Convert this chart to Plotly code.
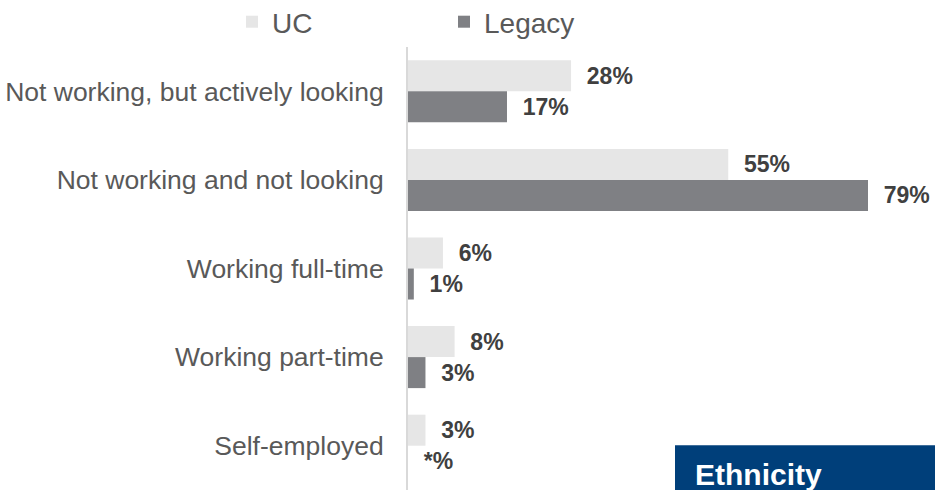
import plotly.graph_objects as go

# Employment status by benefit group (percent of respondents)
categories = [
    "Not working, but actively looking",
    "Not working and not looking",
    "Working full-time",
    "Working part-time",
    "Self-employed",
]
uc_values = [28, 55, 6, 8, 3]
legacy_values = [17, 79, 1, 3, 0]
series_names = ["UC", "Legacy"]


def pct_label(v):
    # values under half a percent are shown as an asterisk
    return f"{v}%" if v >= 0.5 else "*%"


W, H = 935, 490
LEFT, TOP = 408, 45
PX_PER_PCT = (868 - 408) / 79
x_max = (W - LEFT) / PX_PER_PCT

FONT = "Liberation Sans, Arial, sans-serif"
PAD = "\u00a0\u00a0"

fig = go.Figure()
for name, vals, color in [
    (series_names[0], uc_values, "#e6e6e6"),
    (series_names[1], legacy_values, "#7f8084"),
]:
    fig.add_trace(go.Bar(
        name=name,
        y=categories,
        x=vals,
        orientation="h",
        marker=dict(color=color, line=dict(width=0)),
        text=[PAD + pct_label(v) for v in vals],
        textposition="outside",
        constraintext="none",
        cliponaxis=False,
        textfont=dict(family=FONT, size=23, color="#404040", weight="bold"),
        hoverinfo="skip",
    ))

fig.update_layout(
    width=W,
    height=H,
    margin=dict(l=LEFT, r=0, t=TOP, b=0, pad=0),
    paper_bgcolor="white",
    plot_bgcolor="white",
    barmode="group",
    bargap=0.3,
    bargroupgap=0,
    font=dict(family=FONT, color="#595959"),
    xaxis=dict(
        range=[0, x_max],
        visible=False,
        fixedrange=True,
    ),
    yaxis=dict(
        autorange="reversed",
        showline=True,
        linecolor="#d9d9d9",
        linewidth=2,
        showgrid=False,
        zeroline=False,
        ticks="",
        ticklabelstandoff=17,
        tickfont=dict(family=FONT, size=26.5, color="#595959"),
    ),
    legend=dict(
        orientation="h",
        xref="container",
        yref="container",
        x=232 / W,
        xanchor="left",
        y=1 - 22 / H,
        yanchor="middle",
        entrywidth=167,
        entrywidthmode="pixels",
        font=dict(family=FONT, size=28, color="#595959"),
        bgcolor="rgba(0,0,0,0)",
        traceorder="normal",
    ),
    showlegend=True,
)

# section tab in the lower right corner
fig.add_shape(
    type="rect",
    xref="paper", yref="paper",
    x0=(675 - LEFT) / (W - LEFT), x1=1.0,
    y0=0, y1=(H - 445) / (H - TOP),
    fillcolor="#003f7a",
    line=dict(width=0),
    layer="above",
)
fig.add_annotation(
    xref="paper", yref="paper",
    x=(693 - LEFT) / (W - LEFT), y=0,
    xanchor="left", yanchor="bottom",
    yshift=-3,
    text="<b>Ethnicity</b>",
    showarrow=False,
    font=dict(family=FONT, size=30, color="white"),
)

fig.write_html("out.html")
